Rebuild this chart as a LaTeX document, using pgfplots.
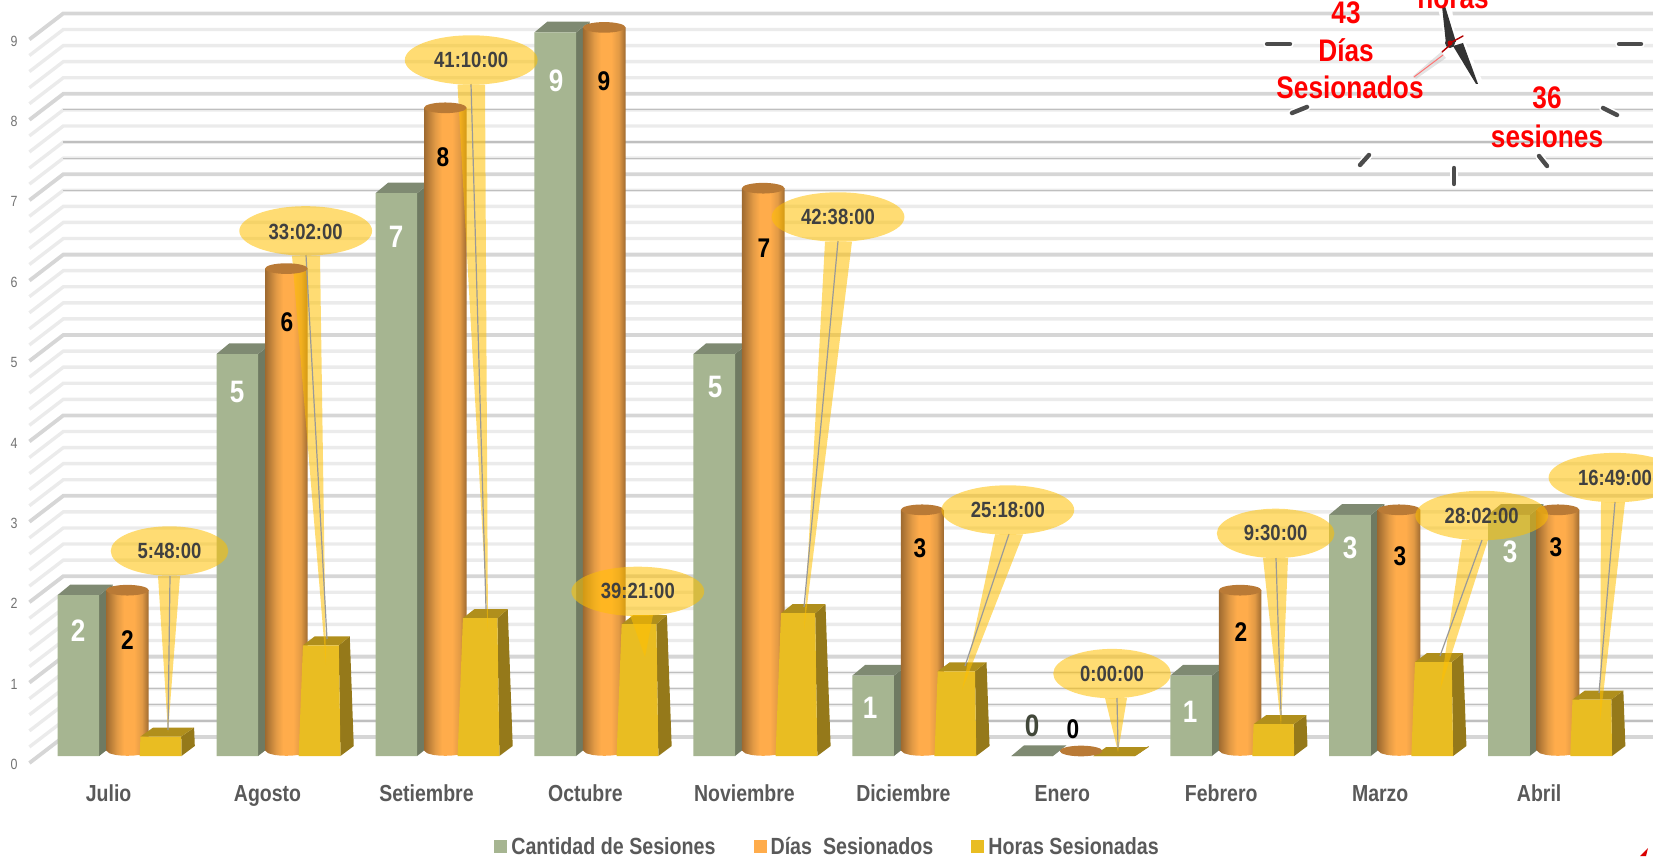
\documentclass[border=0pt]{standalone}
\usepackage{fontspec}
\setmainfont[FakeStretch=0.84]{Liberation Sans}
\usepackage{pgfplots}
\usepackage{pgfplotstable}
\pgfplotsset{compat=1.18}
\definecolor{gFront}{HTML}{A6B591}\definecolor{gSide}{HTML}{6F7A62}\definecolor{gTop}{HTML}{7F8A72}
\definecolor{oTop}{HTML}{B97A36}\definecolor{oMain}{HTML}{FFAC4B}
\definecolor{oD}{HTML}{9E6A30}\definecolor{oM}{HTML}{E29A45}
\definecolor{yFront}{HTML}{E9BD22}\definecolor{ySide}{HTML}{95791A}\definecolor{yTop}{HTML}{B08F1C}
\definecolor{callout}{HTML}{FFC000}\definecolor{txt}{HTML}{595959}
\pgfdeclarehorizontalshading{cyl}{100bp}{color(0bp)=(oD);color(25bp)=(oD);color(38bp)=(oM);color(46bp)=(oMain);color(58bp)=(oMain);color(67bp)=(oM);color(75bp)=(oD);color(100bp)=(oD)}
\pgfplotstableread{
i sesiones dias horas
0 2 2 0.2417
1 5 6 1.376
2 7 8 1.715
3 9 9 1.640
4 5 7 1.776
5 1 3 1.054
6 0 0 0
7 1 2 0.396
8 3 3 1.168
9 3 3 0.701
}\datos
% shapes: x = i + (off + dx + dv*v) px ; y = a*v + b px
\pgfplotstableread{
dx dv a b
20.8 0 1 0
34.3 0 1 10.7
34.3 0 0 10.7
20.8 0 0 0
}\gSideS
\pgfplotstableread{
dx dv a b
-20.8 0 1 0
-8 0 1 10.7
34.3 0 1 10.7
20.8 0 1 0
}\gTopS
\pgfplotstableread{
dx dv a b
-21.3 0 1 5
21.3 0 1 5
21.3 0 0 5.5
18 0 0 2.7
12 0 0 1.1
6 0 0 0.4
0 0 0 0.2
-6 0 0 0.4
-12 0 0 1.1
-18 0 0 2.7
-21.3 0 0 5.5
}\cylS
\pgfplotstableread{
dx dv a b
-20.9 0 0 0
20.9 0 0 0
20.9 -1.2 1 0
-20.9 3.1 1 0
}\yFrontS
\pgfplotstableread{
dx dv a b
20.9 -1.2 1 0
34.2 -2.9 1 9
34.2 0 0 10
20.9 0 0 0
}\ySideS
\pgfplotstableread{
dx dv a b
-20.9 3.1 1 0
-8 2.3 1 9
34.2 -2.9 1 9
20.9 -1.2 1 0
}\yTopS
\pgfplotsset{/pgfplots/table/pxy/.style={x expr=(\thisrow{X}-108.6)/158.95,y expr=(756-\thisrow{Y})/80.4}}
\newcommand\mkshape[5]{\addplot[#1,draw=none,forget plot] table[x expr=#2+(#4+\thisrow{dx}+\thisrow{dv}*#3)/158.95,y expr=\thisrow{a}*#3+\thisrow{b}/80.4] {#5};}
\newcommand\cwedge[5]{\addplot[fill=callout,fill opacity=0.55,draw=none,forget plot] table[row sep=\\,pxy] {X Y\\ #1 #3\\ #2 #3\\ #4 #5\\};}
\newcommand\cleader[4]{\addplot[color=black!40,line width=0.6pt,forget plot] table[row sep=\\,pxy] {X Y\\ #1 #2\\ #3 #4\\};}
\begin{document}
\begin{tikzpicture}
\useasboundingbox (0,-50pt) rectangle (826.5pt,378pt);
\clip (0,-50pt) rectangle (826.5pt,378pt);
\begin{axis}[at={(0pt,0pt)},anchor=south west,scale only axis,width=826.5pt,height=378pt,
 xmin=-0.68324,xmax=9.71626,ymin=0,ymax=9.40299,clip=false,
 axis line style={draw=none},tick style={draw=none},major tick length=0pt,
 xtick={0,...,9},xticklabels={Julio,Agosto,Setiembre,Octubre,Noviembre,Diciembre,Enero,Febrero,Marzo,Abril},
 xtick pos=lower,ytick pos=left,ytick={0,...,9},
 xticklabel style={font=\bfseries\fontsize{11.6}{12}\selectfont,text=txt,yshift=-11pt},
 yticklabel style={font=\fontsize{7.4}{8}\selectfont,text=black!55,anchor=center,xshift=7pt,yshift=-4.3pt},
 /pgf/number format/assume math mode=true,
 legend style={at={(0.2988,-0.1205)},anchor=west,draw=none,fill=none,font=\bfseries\fontsize{11.7}{12}\selectfont,text=txt,
  legend columns=-1,/tikz/every even column/.append style={column sep=17pt},inner sep=0pt},
 legend cell align=left,
 legend image code/.code={\fill[#1,draw=none] (0pt,-3.2pt) rectangle (6.5pt,3.3pt);},
]
% back wall and floor lines
\pgfplotsforeachungrouped \kk in {1,2,3,4,6,7,8,9,11,12,13,14,16,17,18,19,21,22,23,24,26,27,28,29,31,32,33,34,36,37,38,39,41,42,43,44}{%
 \pgfmathsetmacro\yw{0.2*\kk+19/80.4}\pgfmathsetmacro\yf{0.2*\kk-7/80.4}%
 \edef\tmp{\noexpand\addplot[color=black!8,line width=1.7pt,forget plot] coordinates {(-0.4982,\yf)(-0.2848,\yw)(9.72,\yw)};}\tmp}
\pgfplotsforeachungrouped \kk in {0,5,...,45}{%
 \pgfmathsetmacro\yw{0.2*\kk+19/80.4}\pgfmathsetmacro\yf{0.2*\kk-7/80.4}%
 \edef\tmp{\noexpand\addplot[color=black!16,line width=1.9pt,forget plot] coordinates {(-0.4982,\yf)(-0.2848,\yw)(9.72,\yw)};}\tmp}
\pgfplotsforeachungrouped \kk in {1,2,3,4,34,36,37,39}{%
 \pgfmathsetmacro\yw{0.2*\kk+19/80.4}%
 \edef\tmp{\noexpand\addplot[color=black!25,line width=0.6pt,forget plot] coordinates {(-0.2848,\yw)(9.72,\yw)};}\tmp}
% green
\pgfplotsforeachungrouped \ii in {0,...,9}{%
 \pgfplotstablegetelem{\ii}{sesiones}\of\datos\edef\vv{\pgfplotsretval}%
 \edef\tmp{\noexpand\mkshape{fill=gSide}{\ii}{\vv}{-30.2}{\noexpand\gSideS}\noexpand\mkshape{fill=gTop}{\ii}{\vv}{-30.2}{\noexpand\gTopS}}\tmp}
\addplot[ybar,bar width=20.8pt,bar shift=-15.1pt,fill=gFront,draw=none,forget plot] table[x=i,y=sesiones] {\datos};
% orange
\pgfplotsforeachungrouped \ii in {0,...,9}{%
 \pgfplotstablegetelem{\ii}{dias}\of\datos\edef\vv{\pgfplotsretval}%
 \edef\tmp{\noexpand\mkshape{shade,shading=cyl}{\ii}{\vv}{18.8}{\noexpand\cylS}}\tmp}
\addplot[only marks,mark=*,mark size=10.65pt,mark options={yscale=0.25,fill=oTop,draw opacity=0},forget plot]
 table[x expr=\thisrow{i}+18.8/158.95,y expr=\thisrow{dias}+5/80.4] {\datos};
% gold
\pgfplotsforeachungrouped \ii in {0,...,9}{%
 \pgfplotstablegetelem{\ii}{horas}\of\datos\edef\vv{\pgfplotsretval}%
 \edef\tmp{\noexpand\mkshape{fill=ySide}{\ii}{\vv}{52}{\noexpand\ySideS}\noexpand\mkshape{fill=yTop}{\ii}{\vv}{52}{\noexpand\yTopS}\noexpand\mkshape{fill=yFront}{\ii}{\vv}{52}{\noexpand\yFrontS}}\tmp}
% value labels
\addplot[only marks,mark=none,forget plot,point meta=explicit symbolic,nodes near coords,
 nodes near coords style={anchor=center,inner sep=0pt,yshift=0pt,text=white,font=\bfseries\fontsize{15.5}{16}\selectfont}]
 table[row sep=\\,pxy,meta=L] {X Y L\\ 78 631 2\\ 237 392 5\\ 396 237 7\\ 556 81 9\\ 715 387 5\\ 870 708 1\\ 1190 712 1\\ 1350 548 3\\ 1510 552 3\\};
\addplot[only marks,mark=none,forget plot,point meta=explicit symbolic,nodes near coords,
 nodes near coords style={anchor=center,inner sep=0pt,yshift=0pt,text=black,font=\bfseries\fontsize{13.5}{14}\selectfont}]
 table[row sep=\\,pxy,meta=L] {X Y L\\ 127.5 640 2\\ 287 322 6\\ 443 157 8\\ 604 81 9\\ 764 248 7\\ 920 548 3\\ 1073 729 0\\ 1241 632 2\\ 1400 556 3\\ 1556 547 3\\};
\addplot[only marks,mark=none,forget plot,point meta=explicit symbolic,nodes near coords,
 nodes near coords style={anchor=center,inner sep=0pt,yshift=0pt,text=gFront!40!black,font=\bfseries\fontsize{15.5}{16}\selectfont}]
 table[row sep=\\,pxy,meta=L] {X Y L\\ 1032 726 0\\};
% callouts
\cwedge{158}{180}{576}{168}{732}
\cwedge{292}{320}{255.5}{326}{665}
\cwedge{457.5}{485}{84.5}{488}{632}
\cwedge{630}{653}{615}{645}{657}
\cwedge{825}{852}{241.5}{804}{630}
\cwedge{995}{1023}{534.5}{962}{690}
\cwedge{1105}{1127}{698}{1118}{752}
\cwedge{1263}{1288}{558}{1281}{726}
\cwedge{1462}{1488}{540}{1440}{690}
\cwedge{1601}{1625}{502}{1600}{722}
\cleader{170}{576}{168}{730}
\cleader{306}{255}{327}{639}
\cleader{471}{84}{486}{609}
\cleader{838}{241}{804}{607}
\cleader{1009}{534}{965}{666}
\cleader{1117}{698}{1118}{748}
\cleader{1276}{558}{1281}{715}
\cleader{1482}{540}{1440}{656}
\cleader{1615}{502}{1599}{693}
\addplot[only marks,mark=*,mark size=29.4pt,mark options={yscale=0.42,fill=callout,fill opacity=0.55,draw opacity=0},forget plot]
 table[row sep=\\,pxy] {X Y\\ 169.5 551\\ 1112 673.6\\ 1275.6 533.4\\};
\addplot[only marks,mark=*,mark size=33.2pt,mark options={yscale=0.372,fill=callout,fill opacity=0.55,draw opacity=0},forget plot]
 table[row sep=\\,pxy] {X Y\\ 305.7 230.9\\ 471.2 60\\ 637.8 591.4\\ 838 217\\ 1007.8 510\\ 1481.7 515.5\\ 1615 477.6\\};
\addplot[only marks,mark=none,forget plot,point meta=explicit symbolic,nodes near coords,
 nodes near coords style={anchor=center,inner sep=0pt,yshift=0pt,text=black!75,font=\bfseries\fontsize{11}{12}\selectfont}]
 table[row sep=\\,pxy,meta=L] {X Y L\\ 169.5 551 5:48:00\\ 305.7 232 33:02:00\\ 471.2 60 41:10:00\\ 637.8 591.4 39:21:00\\ 838 217 42:38:00\\ 1007.8 510 25:18:00\\ 1112 674 0:00:00\\ 1275.6 533.4 9:30:00\\ 1481.7 515.5 28:02:00\\ 1615 477.6 16:49:00\\};
% legend
\addlegendimage{fill=gFront}\addlegendentry{Cantidad de Sesiones}
\addlegendimage{fill=oMain}\addlegendentry{Días\ \ Sesionados}
\addlegendimage{fill=yFront}\addlegendentry{Horas Sesionadas}
\end{axis}
% clock decoration, in pixel units of the picture
\begin{scope}[x=0.5pt,y=-0.5pt,shift={(0pt,378pt)},line cap=round]
 \foreach \a/\b/\c/\d in {1267/44/1290/44,1619/44/1641/44,1292/113/1307/107,1603/108/1617/115,1360/165/1369/155,1539/156/1547/166,1454/168/1454/184}{
  \draw[white,line width=3.8pt] (\a,\b)--(\c,\d);
  \draw[black!70,line width=2.2pt] (\a,\b)--(\c,\d);}
 \fill[white] (1438,8)--(1452,8)--(1456,45)--(1446,45)--cycle;
 \fill[white] (1452,46)--(1464,40)--(1482,80)--(1474,85)--cycle;
 \fill[black!30,opacity=0.35] (1413,76)--(1441,52)--(1446,58)--(1416,79)--cycle;
 \draw[red!55!white,line width=0.5pt] (1414,77)--(1443,55);
 \fill[black!80] (1442,6)--(1445,6)--(1456,42)--(1446,44)--cycle;
 \fill[black!80] (1453,46)--(1463,43)--(1478,84)--(1476,84)--cycle;
 \fill[black!80] (1450,43) circle (5);
 \fill[red!75!black] (1450,43) circle (2.5);
 \draw[red!70!black,line width=0.7pt] (1452,42)--(1463,36);
 \draw[red!70!black,line width=0.7pt] (1442,52)--(1450,45);
 \fill[red!85!black] (1640,856)--(1648,848)--(1646,856)--cycle;
 \tikzset{rt/.style={text=red,font=\bfseries\fontsize{15.6}{17}\selectfont,anchor=center,inner sep=0pt}}
 \node[rt] at (1346,13) {43};
 \node[rt] at (1346,50) {Días};
 \node[rt] at (1350,87) {Sesionados};
 \node[rt] at (1453,-3) {horas};
 \node[rt] at (1547,98) {36};
 \node[rt] at (1547,136) {sesiones};
\end{scope}
\end{tikzpicture}
\end{document}
